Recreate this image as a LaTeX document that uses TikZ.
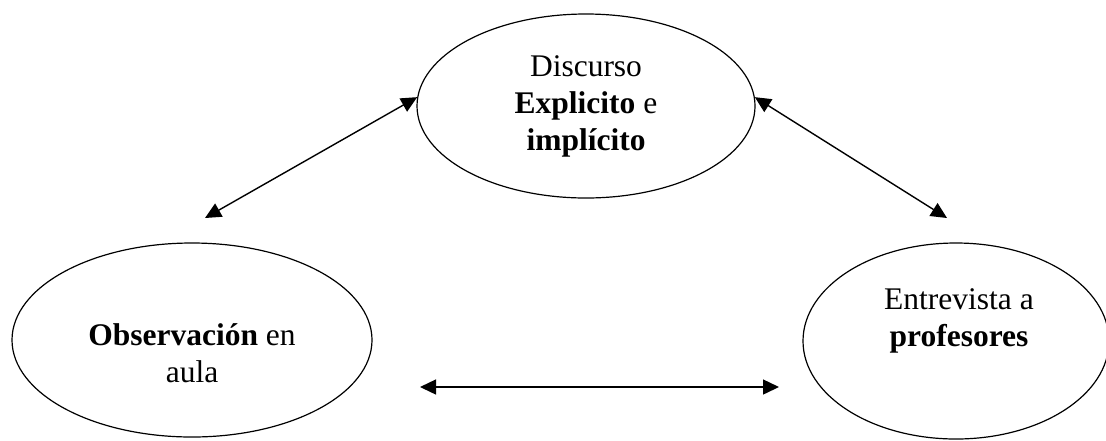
\documentclass[tikz,border=0pt]{standalone}
\usepackage{fontspec}
\setmainfont{Liberation Serif}
\usetikzlibrary{arrows.meta,shapes.geometric}

\begin{document}
\begin{tikzpicture}[x=0.5pt,y=-0.5pt,
  bubble/.style={ellipse,draw,line width=0.6pt,inner sep=0pt},
  lbl/.style={align=center,font=\fontsize{15.75}{18.5}\selectfont},
  link/.style={line width=0.7pt,
    {Triangle[length=8pt,width=7.5pt]}-{Triangle[length=8pt,width=7.5pt]}}]

\useasboundingbox (0,0) rectangle (1106,440);

\begin{scope} % the three ellipses
  \node (disc) at (586,106) [bubble,lbl,minimum width=169pt,minimum height=92pt]
    {Discurso\\\textbf{Explicito} e\\\textbf{implícito}};
  \node (obs) at (192,340) [bubble,minimum width=180pt,minimum height=97pt] {};
  \node (entr) at (956,341) [bubble,minimum width=153pt,minimum height=98pt] {};
\end{scope}

\begin{scope} % texts of the lower ellipses
  \node (obstxt) at (192,353) [lbl] {\textbf{Observación} en\\aula};
  \node (entrtxt) at (959,321) [lbl] {Entrevista a\\\textbf{profesores}};
\end{scope}

\begin{scope} % free ends of the arrows
  \coordinate (obsend) at (205,218);
  \coordinate (entrend) at (947,218);
  \coordinate (midl) at (420,387);
  \coordinate (midr) at (779,387);
\end{scope}

\begin{scope}[link] % double arrows
  \draw (disc.177) -- (obsend);
  \draw (disc.3) -- (entrend);
  \draw (midl) -- (midr);
\end{scope}

\end{tikzpicture}
\end{document}
